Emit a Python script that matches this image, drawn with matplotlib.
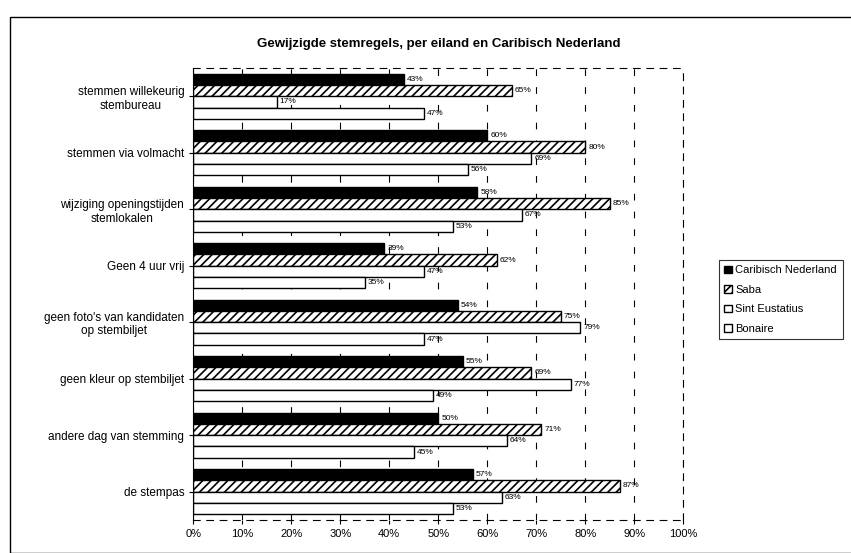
import numpy as np
from matplotlib import pyplot as plt
from matplotlib.patches import Rectangle

categories = [
    "stemmen willekeurig\nstembureau",
    "stemmen via volmacht",
    "wijziging openingstijden\nstemlokalen",
    "Geen 4 uur vrij",
    "geen foto's van kandidaten\nop stembiljet",
    "geen kleur op stembiljet",
    "andere dag van stemming",
    "de stempas",
]
series_names = ["Caribisch Nederland", "Saba", "Sint Eustatius", "Bonaire"]
caribisch_nederland = [43, 60, 58, 39, 54, 55, 50, 57]
saba = [65, 80, 85, 62, 75, 69, 71, 87]
sint_eustatius = [17, 69, 67, 47, 79, 77, 64, 63]
bonaire = [47, 56, 53, 35, 47, 49, 45, 53]
x_ticks = [0, 10, 20, 30, 40, 50, 60, 70, 80, 90, 100]

plt.rcParams["font.family"] = "Liberation Sans"
plt.rcParams["hatch.linewidth"] = 1.2

fig = plt.figure(figsize=(8.51, 5.53), dpi=100)
ax = fig.add_axes([0.227, 0.06, 0.576, 0.817])

series = [caribisch_nederland, saba, sint_eustatius, bonaire]
styles = [
    dict(color="black", edgecolor="black"),
    dict(color="white", edgecolor="black", hatch="////"),
    dict(color="white", edgecolor="black"),
    dict(color="white", edgecolor="black"),
]
h = 0.2
y = np.arange(len(categories))
for i, (vals, st) in enumerate(zip(series, styles)):
    pos = y - 0.3 + i * h
    bars = ax.barh(pos, vals, height=h, linewidth=1.0, label=series_names[i], **st)
    for b, v in zip(bars, vals):
        ax.text(v + 0.6, b.get_y() + b.get_height() / 2, f"{v}%",
                va="center", ha="left", fontsize=6)

ax.set_xlim(0, 100)
ax.set_ylim(len(categories) - 0.5, -0.5)
ax.set_yticks(y)
ax.set_yticklabels(categories, fontsize=8.5, multialignment="center")
ax.set_xticks(x_ticks)
ax.set_xticklabels([f"{t}%" for t in x_ticks], fontsize=8)
ax.xaxis.grid(True, color="black", linestyle=(0, (6, 10)), linewidth=0.8)
ax.set_axisbelow(True)
for s in ["top", "right", "bottom"]:
    ax.spines[s].set_linestyle((0, (6, 6)))
    ax.spines[s].set_linewidth(0.8)
ax.tick_params(axis="both", length=3)

ax.set_title("Gewijzigde stemregels, per eiland en Caribisch Nederland",
             fontsize=9.5, fontweight="bold", pad=15)

leg = fig.legend(loc="upper left", bbox_to_anchor=(0.838, 0.54), fontsize=8,
                 frameon=True, fancybox=False, edgecolor="black",
                 handlelength=0.7, handleheight=0.7, handletextpad=0.3,
                 borderpad=0.5, labelspacing=0.85)
leg.get_frame().set_linewidth(0.8)

fig.patches.append(Rectangle((0.012, 0.0), 0.99, 0.97, transform=fig.transFigure,
                             fill=False, edgecolor="black", linewidth=1.0))

fig.savefig("out.png", dpi=100)
